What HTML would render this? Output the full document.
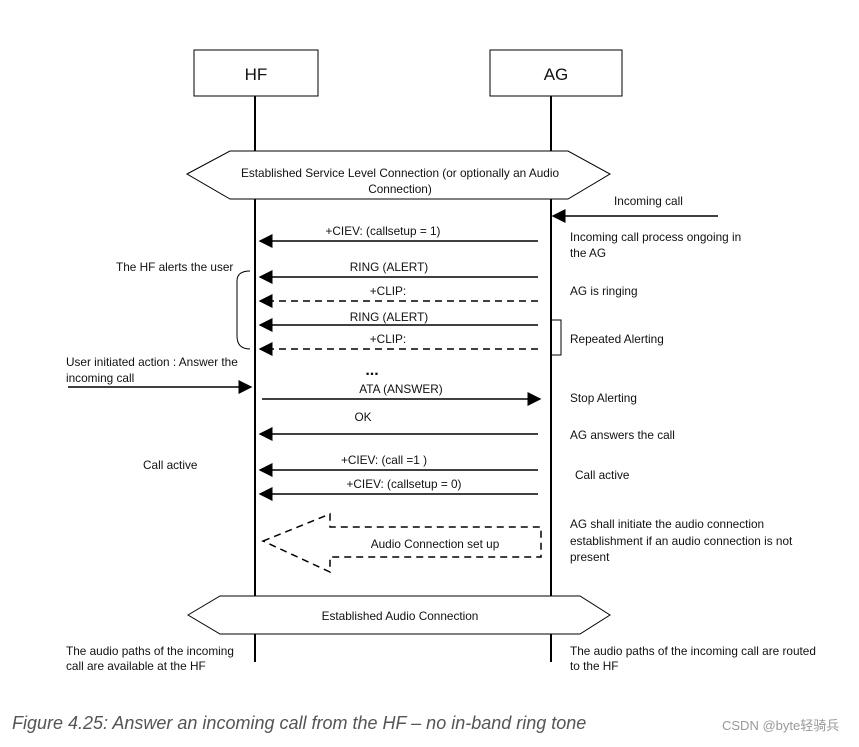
<!DOCTYPE html>
<html><head><meta charset="utf-8"><style>
body{margin:0;background:#fff;width:859px;height:742px;overflow:hidden}
svg text{font-family:"Liberation Sans",Arial,sans-serif;font-size:11.8px;fill:#111}
</style></head><body>
<svg width="859" height="742" viewBox="0 0 859 742" xmlns="http://www.w3.org/2000/svg">
<defs>
<marker id="a" viewBox="0 0 10 10" refX="9" refY="5" markerWidth="14" markerHeight="14" markerUnits="userSpaceOnUse" orient="auto"><path d="M0,0L10,5L0,10z" fill="#000"/></marker>
</defs>
<g stroke="#000" stroke-width="1.5" fill="none">
<rect x="194" y="50" width="124" height="46" stroke-width="1"/>
<rect x="490" y="50" width="132" height="46" stroke-width="1"/>
<line x1="255" y1="96" x2="255" y2="662" stroke-width="2"/>
<line x1="551" y1="96" x2="551" y2="662" stroke-width="2"/>
<polygon points="187,174 230,151 568,151 610,174 568,199 230,199" fill="#fff" stroke-width="1"/>
<polygon points="188,615 220,596 580,596 610,615 580,634 220,634" fill="#fff" stroke-width="1"/>
<line x1="718" y1="216" x2="553" y2="216" marker-end="url(#a)"/>
<line x1="538" y1="241" x2="260" y2="241" marker-end="url(#a)"/>
<line x1="538" y1="277" x2="260" y2="277" marker-end="url(#a)"/>
<line x1="538" y1="301" x2="260" y2="301" stroke-dasharray="7,5" marker-end="url(#a)"/>
<line x1="538" y1="325" x2="260" y2="325" marker-end="url(#a)"/>
<line x1="538" y1="349" x2="260" y2="349" stroke-dasharray="7,5" marker-end="url(#a)"/>
<line x1="68" y1="387" x2="251" y2="387" marker-end="url(#a)"/>
<line x1="262" y1="399" x2="540" y2="399" marker-end="url(#a)"/>
<line x1="538" y1="434" x2="260" y2="434" marker-end="url(#a)"/>
<line x1="538" y1="470" x2="260" y2="470" marker-end="url(#a)"/>
<line x1="538" y1="494" x2="260" y2="494" marker-end="url(#a)"/>
<path d="M250,271 q-13,0 -13,10 v55 q0,13 13,13" stroke-width="1"/>
<path d="M551,320 h10 v35 h-10" stroke-width="1"/>
<polygon points="263,541 330,514 330,527 541,527 541,557 330,557 330,572" stroke-dasharray="7,5"/>
</g>
<g text-anchor="middle">
<text x="256" y="80" style="font-size:17px">HF</text>
<text x="556" y="80" style="font-size:17px">AG</text>
<text x="400" y="177">Established Service Level Connection (or optionally an Audio</text>
<text x="400" y="193">Connection)</text>
<text x="400" y="620">Established Audio Connection</text>
<text x="383" y="235">+CIEV: (callsetup = 1)</text>
<text x="389" y="271">RING (ALERT)</text>
<text x="388" y="295">+CLIP:</text>
<text x="389" y="321">RING (ALERT)</text>
<text x="388" y="343">+CLIP:</text>
<text x="372" y="375" style="font-size:16px;font-weight:bold">...</text>
<text x="401" y="393">ATA (ANSWER)</text>
<text x="363" y="421">OK</text>
<text x="384" y="464">+CIEV: (call =1 )</text>
<text x="404" y="488">+CIEV: (callsetup = 0)</text>
<text x="435" y="548">Audio Connection set up</text>
</g>
<text x="614" y="205">Incoming call</text>
<text x="570" y="241">Incoming call process ongoing in</text>
<text x="570" y="257">the AG</text>
<text x="570" y="295">AG is ringing</text>
<text x="570" y="343">Repeated Alerting</text>
<text x="570" y="402">Stop Alerting</text>
<text x="570" y="439">AG answers the call</text>
<text x="575" y="479">Call active</text>
<text x="570" y="528">AG shall initiate the audio connection</text>
<text x="570" y="545">establishment if an audio connection is not</text>
<text x="570" y="561">present</text>
<text x="570" y="655">The audio paths of the incoming call are routed</text>
<text x="570" y="670">to the HF</text>
<text x="116" y="271">The HF alerts the user</text>
<text x="66" y="366">User initiated action : Answer the</text>
<text x="66" y="382">incoming call</text>
<text x="143" y="469">Call active</text>
<text x="66" y="655">The audio paths of the incoming</text>
<text x="66" y="670">call are available at the HF</text>
<text x="12" y="729" style="font-size:18px;font-style:italic;fill:#555">Figure 4.25: Answer an incoming call from the HF – no in-band ring tone</text>
<text x="722" y="730" style="font-family:'Liberation Sans','Noto Sans CJK SC',sans-serif;font-size:13px;fill:#999">CSDN @byte轻骑兵</text>
</svg>
</body></html>
